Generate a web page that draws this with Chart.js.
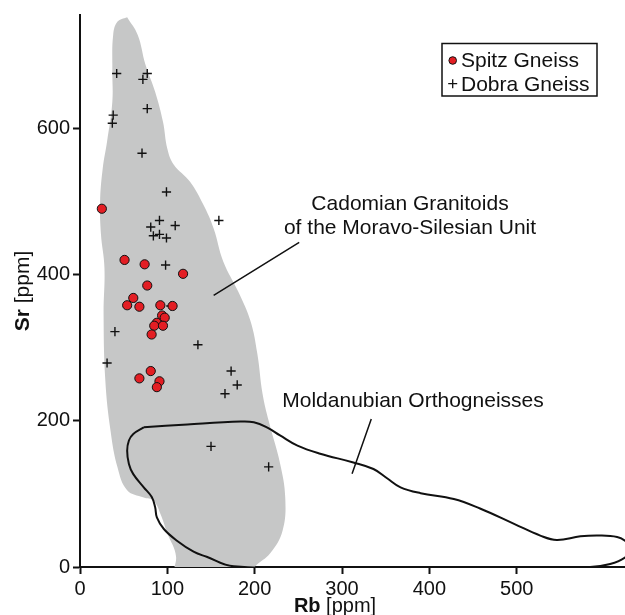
<!DOCTYPE html>
<html>
<head>
<meta charset="utf-8">
<script src="https://cdn.jsdelivr.net/npm/chart.js@4/dist/chart.umd.min.js"></script>
<style>
  html, body { margin: 0; padding: 0; background: #fff; }
  #wrap { width: 625px; height: 615px; position: relative; }
</style>
</head>
<body>
<div id="wrap"><canvas id="chart" width="625" height="615"></canvas></div>
<script>
/* ── Rb / Sr data (ppm) ─────────────────────────────────────── */
const SPITZ_RB = [25, 51, 74, 118, 77, 61, 54, 68, 92, 106, 94, 97, 88, 85, 95, 82, 81, 68, 91, 88];
const SPITZ_SR = [490, 420, 414, 401, 385, 368, 358, 356, 358, 357, 344, 341, 334, 330, 330, 318, 268, 258, 254, 246];

const DOBRA_RB = [42, 77, 72, 77, 38, 37, 71, 99, 91, 81, 109, 84, 91, 99, 98, 159, 104, 40, 135, 31, 173, 180, 166, 150, 216];
const DOBRA_SR = [675, 675, 667, 627, 618, 607, 566, 513, 474, 465, 467, 453, 455, 450, 413, 474, 357, 322, 304, 279, 268, 249, 237, 165, 137];

// field of the Cadomian granitoids (closed outline)
const CADOMIAN_RB = [54, 66, 75, 86, 95, 100, 107, 126, 141, 153, 164, 181, 195, 203, 209, 216, 229, 235, 232, 218, 200, 184, 106,
                     110, 100, 92, 84, 73, 54, 43, 35, 29, 27, 28, 24, 23, 26, 31, 37, 37, 38, 43, 54];
const CADOMIAN_SR = [752, 728, 687, 650, 609, 572, 551, 527, 496, 463, 418, 377, 337, 292, 237, 200, 142, 95, 50, 19, 0, -25, -25,
                     14, 46, 73, 91, 95, 105, 136, 186, 255, 346, 409, 455, 500, 545, 582, 636, 681, 728, 746, 752];

// field of the Moldanubian orthogneisses (closed outline)
const MOLDANUBIAN_RB = [73, 123, 184, 199, 214, 229, 249, 275, 313, 336, 352, 367, 390, 428, 458, 497, 527, 546, 573, 596, 615, 624, 632, 624, 607, 584,
                        450, 300, 176, 145, 130, 111, 96, 88, 86, 82, 73, 61, 56, 54, 56, 61, 73];
const MOLDANUBIAN_SR = [191, 195, 199, 198, 191, 180, 166, 155, 143, 134, 121, 109, 101, 93, 80, 59, 43, 37, 42, 43, 41, 36, 26, 13, 4, 0,
                        -2, -2, 1, 14, 21, 36, 52, 68, 82, 96, 109, 127, 141, 159, 173, 182, 191];

const X_TICKS = [0, 100, 200, 300, 400, 500];
const Y_TICKS = [0, 200, 400, 600];

const FONT = "'Liberation Sans', Arial, sans-serif";
const RED  = '#e31e24';
const GREY = '#c6c7c7';

const toXY = (xs, ys) => xs.map((x, i) => ({ x, y: ys[i] }));

/* ── Texts, leaders, legend box and axis titles ─────────────── */
const overlay = {
    id: 'overlay',
    afterDraw(chart) {
        const { ctx, scales: { x, y } } = chart;
        const px = v => x.getPixelForValue(v);
        const py = v => y.getPixelForValue(v);

        ctx.save();
        ctx.fillStyle = '#111';
        ctx.strokeStyle = '#111';

        // field labels
        ctx.font = `21px ${FONT}`;
        ctx.textAlign = 'center';
        ctx.textBaseline = 'alphabetic';
        ctx.fillText('Cadomian Granitoids', 410, 210);
        ctx.fillText('of the Moravo-Silesian Unit', 410, 234);
        ctx.fillText('Moldanubian Orthogneisses', 413, 407);

        ctx.lineWidth = 1.5;
        ctx.beginPath();
        ctx.moveTo(px(251), py(444));
        ctx.lineTo(px(153), py(371.5));
        ctx.moveTo(px(333.5), py(202.5));
        ctx.lineTo(px(311.5), py(127.5));
        ctx.stroke();

        // legend
        ctx.lineWidth = 1.5;
        ctx.strokeRect(442, 43.5, 155, 52.5);
        ctx.beginPath();
        ctx.arc(452.7, 60.5, 3.8, 0, Math.PI * 2);
        ctx.fillStyle = RED;
        ctx.fill();
        ctx.lineWidth = 1;
        ctx.stroke();
        ctx.lineWidth = 1.3;
        ctx.beginPath();
        ctx.moveTo(448.2, 83.7); ctx.lineTo(457.2, 83.7);
        ctx.moveTo(452.7, 79.2); ctx.lineTo(452.7, 88.2);
        ctx.stroke();
        ctx.fillStyle = '#111';
        ctx.textAlign = 'left';
        ctx.fillText('Spitz Gneiss', 461, 67);
        ctx.fillText('Dobra Gneiss', 461, 91);

        // axis titles: bold element + normal unit
        const title = (bold, rest, cx, cy, angle, size) => {
            ctx.save();
            ctx.translate(cx, cy);
            ctx.rotate(angle);
            ctx.font = `bold ${size}px ${FONT}`;
            const wb = ctx.measureText(bold).width;
            ctx.font = `${size}px ${FONT}`;
            const wr = ctx.measureText(rest).width;
            const sx = -(wb + wr) / 2;
            ctx.textAlign = 'left';
            ctx.font = `bold ${size}px ${FONT}`;
            ctx.fillText(bold, sx, 0);
            ctx.font = `${size}px ${FONT}`;
            ctx.fillText(rest, sx + wb, 0);
            ctx.restore();
        };
        title('Rb', ' [ppm]', 335, 612, 0, 20);
        title('Sr', ' [ppm]', 29, 291, -Math.PI / 2, 21);

        ctx.restore();
    }
};

new Chart(document.getElementById('chart'), {
    type: 'scatter',
    data: {
        datasets: [
            {
                label: 'Spitz Gneiss',
                data: toXY(SPITZ_RB, SPITZ_SR),
                pointStyle: 'circle',
                pointRadius: 4.6,
                backgroundColor: RED,
                borderColor: '#111',
                borderWidth: 1,
                order: 0
            },
            {
                label: 'Dobra Gneiss',
                data: toXY(DOBRA_RB, DOBRA_SR),
                pointStyle: 'cross',
                pointRadius: 4.6,
                borderColor: '#111',
                borderWidth: 1.4,
                order: 1
            },
            {
                label: 'Moldanubian Orthogneisses',
                data: toXY(MOLDANUBIAN_RB, MOLDANUBIAN_SR),
                showLine: true,
                tension: 0.4,
                pointRadius: 0,
                borderColor: '#111',
                borderWidth: 2,
                fill: false,
                order: 2
            },
            {
                label: 'Cadomian Granitoids',
                data: toXY(CADOMIAN_RB, CADOMIAN_SR),
                showLine: true,
                tension: 0.4,
                pointRadius: 0,
                borderWidth: 0,
                borderColor: GREY,
                backgroundColor: GREY,
                fill: 'shape',
                order: 3
            }
        ]
    },
    options: {
        responsive: false,
        animation: false,
        events: [],
        layout: { autoPadding: false, padding: { top: 14, right: 0, left: 0, bottom: 0 } },
        plugins: {
            legend: { display: false },
            tooltip: { enabled: false }
        },
        scales: {
            x: {
                type: 'linear',
                min: 0,
                max: 624,
                afterBuildTicks: s => { s.ticks = X_TICKS.map(v => ({ value: v })); },
                afterFit: s => { s.height = 48; },
                border: { display: true, color: '#111', width: 2 },
                grid: { drawOnChartArea: false, drawTicks: true, tickLength: 7, tickWidth: 2, tickColor: '#111' },
                ticks: { color: '#111', padding: 3, maxRotation: 0, font: { family: FONT, size: 20 } }
            },
            y: {
                type: 'linear',
                min: 0,
                max: 755,
                afterBuildTicks: s => { s.ticks = Y_TICKS.map(v => ({ value: v })); },
                afterFit: s => { s.width = 80; },
                border: { display: true, color: '#111', width: 2 },
                grid: { drawOnChartArea: false, drawTicks: true, tickLength: 7, tickWidth: 2, tickColor: '#111' },
                ticks: { color: '#111', padding: 3, font: { family: FONT, size: 20 } }
            }
        }
    },
    plugins: [overlay]
});
</script>
</body>
</html>
